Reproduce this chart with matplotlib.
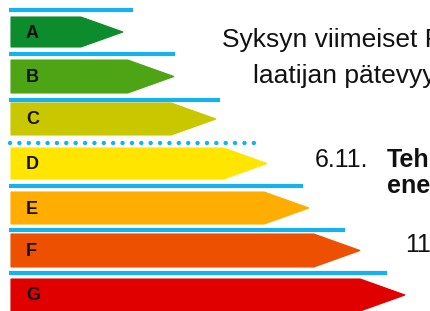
import matplotlib
matplotlib.use("Agg")
import matplotlib.pyplot as plt
from matplotlib.patches import Polygon

# energy classes, top to bottom
classes = ["A", "B", "C", "D", "E", "F", "G"]
colors = ["#0c8c2c", "#4da414", "#c9c700", "#ffe500", "#ffae00", "#ec5000", "#e00000"]
bar_top = [17, 60, 103, 148, 192, 234, 279]
bar_bottom = [47, 93, 135, 179, 224, 267, 311]
tip_x = [123, 174, 216, 267, 309, 360, 405]

# separator lines above each arrow
sep_y = [10, 54, 100, 143, 186, 230, 273]
sep_end = [133, 175, 220, 258, 303, 345, 387]
sep_dotted = [False, False, False, True, False, False, False]

fig = plt.figure(figsize=(4.3, 3.11), dpi=100)
ax = fig.add_axes([0, 0, 1, 1])
ax.set_xlim(0, 430)
ax.set_ylim(311, 0)
ax.axis("off")

blue = "#16b2ef"
for y, xe, dot in zip(sep_y, sep_end, sep_dotted):
    if dot:
        ax.plot([10, xe], [y, y], color=blue, lw=3.2, ls=(0, (0.01, 2.1)),
                dash_capstyle="round")
    else:
        ax.plot([9, xe], [y, y], color=blue, lw=3.0, solid_capstyle="butt")

for c, col, t, b, tx in zip(classes, colors, bar_top, bar_bottom, tip_x):
    mid = (t + b) / 2
    h = b - t
    rx = tx - h * 1.4
    ax.add_patch(Polygon([(11, t), (rx, t), (tx, mid), (rx, b), (11, b)],
                         closed=True, facecolor=col, edgecolor=col, lw=0.8))
    ax.text(26, mid + 1, c, fontsize=13, fontweight="bold", color="#111111",
            family="Liberation Sans", ha="left", va="center")

txt = dict(family="Liberation Sans", ha="left", va="baseline", color="#111111")
ax.text(222, 47, "Syksyn viimeiset F", fontsize=19, **txt)
ax.text(253, 83, "laatijan pätevyy", fontsize=19, **txt)
ax.text(315, 167, "6.11.", fontsize=18, **txt)
ax.text(387, 167, "Teh", fontsize=18, fontweight="bold", **txt)
ax.text(387, 193, "ene", fontsize=18, fontweight="bold", **txt)
ax.text(405, 252, "11", fontsize=18, **txt)

fig.savefig("out.png", dpi=100)
